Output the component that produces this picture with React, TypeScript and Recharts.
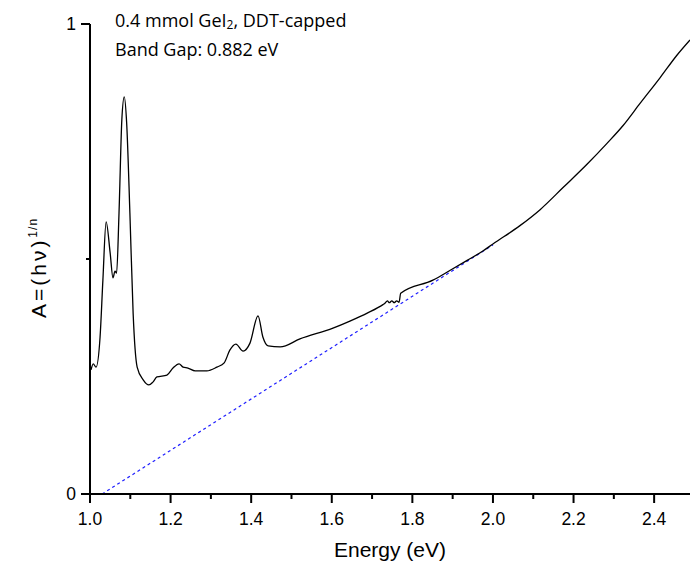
import React from "react";
import { LineChart, Line, XAxis, YAxis } from "recharts";

// absorption curve: energy (eV) and A=(hν)^(1/n)
const energy = [
  1.0025, 1.008, 1.015, 1.025, 1.032, 1.04, 1.05, 1.057, 1.062, 1.066, 1.072,
  1.079, 1.085, 1.091, 1.099, 1.107, 1.117, 1.132, 1.146, 1.156, 1.166, 1.191,
  1.206, 1.221, 1.231, 1.243, 1.261, 1.29, 1.315, 1.333, 1.347, 1.362, 1.38,
  1.397, 1.417, 1.429, 1.442, 1.472, 1.521, 1.603, 1.645, 1.688, 1.727, 1.732,
  1.738, 1.743, 1.749, 1.755, 1.761, 1.767, 1.771, 1.851, 1.894, 1.936, 1.975,
  2.0, 2.067, 2.117, 2.174, 2.234, 2.283, 2.323, 2.365, 2.415, 2.457, 2.489,
];
const absorb = [
  0.264, 0.277, 0.27, 0.334, 0.455, 0.579, 0.513, 0.46, 0.474, 0.47, 0.598,
  0.796, 0.845, 0.789, 0.598, 0.385, 0.27, 0.243, 0.232, 0.238, 0.249, 0.253,
  0.268, 0.277, 0.27, 0.268, 0.262, 0.262, 0.27, 0.279, 0.306, 0.319, 0.304,
  0.321, 0.379, 0.334, 0.315, 0.313, 0.33, 0.353, 0.368, 0.385, 0.403, 0.406,
  0.411, 0.407, 0.411, 0.407, 0.411, 0.408, 0.427, 0.455, 0.476, 0.497, 0.517,
  0.532, 0.571, 0.605, 0.652, 0.702, 0.746, 0.784, 0.831, 0.886, 0.934, 0.966,
];

// linear fit (tangent) extrapolated to the energy axis
const fitEnergy = [1.03, 2.0];
const fitAbsorb = [0, 0.53];

const xTicks = [1.0, 1.1, 1.2, 1.3, 1.4, 1.5, 1.6, 1.7, 1.8, 1.9, 2.0, 2.1, 2.2, 2.3, 2.4];
const xLabels = ["1.0", "1.2", "1.4", "1.6", "1.8", "2.0", "2.2", "2.4"];
const yTicks = [0, 0.5, 1];
const yLabels = ["0", "1"];

const curve = energy.map((e, i) => ({ e, a: absorb[i] }));
const fit = fitEnergy.map((e, i) => ({ e, a: fitAbsorb[i] }));

const tickFont = "'Liberation Sans', Arial, sans-serif";

function XTick(props: any) {
  const { x, y, payload } = props;
  const label = Number(payload.value).toFixed(1);
  const major = xLabels.includes(label);
  return (
    <g>
      <line x1={x} y1={y} x2={x} y2={y + (major ? 9 : 5)} stroke="#000" strokeWidth={2} />
      {major && (
        <text x={x} y={y + 31} textAnchor="middle" fontSize={17.5} fontFamily={tickFont} fill="#000">
          {label}
        </text>
      )}
    </g>
  );
}

function YTick(props: any) {
  const { x, y, payload } = props;
  const label = String(payload.value);
  const major = yLabels.includes(label);
  return (
    <g>
      <line x1={x} y1={y} x2={x - (major ? 9 : 4)} y2={y} stroke="#000" strokeWidth={2} />
      {major && (
        <text x={x - 14} y={y + 6} textAnchor="end" fontSize={17.5} fontFamily={tickFont} fill="#000">
          {label}
        </text>
      )}
    </g>
  );
}

export default function App() {
  return (
    <div style={{ position: "absolute", left: 0, top: 0, width: 690, height: 566, background: "#fff" }}>
      <LineChart width={690} height={566} margin={{ top: 24, right: 0, bottom: 0, left: 0 }}>
        <XAxis
          type="number"
          dataKey="e"
          domain={[1, 2.489]}
          ticks={xTicks}
          allowDataOverflow
          height={72}
          tickSize={0}
          tickMargin={0}
          tickLine={false}
          tick={<XTick />}
          axisLine={{ stroke: "#000", strokeWidth: 2 }}
        />
        <YAxis
          type="number"
          dataKey="a"
          domain={[0, 1]}
          ticks={yTicks}
          width={90}
          tickSize={0}
          tickMargin={0}
          tickLine={false}
          tick={<YTick />}
          axisLine={{ stroke: "#000", strokeWidth: 2 }}
        />
        <Line
          data={fit}
          dataKey="a"
          type="linear"
          stroke="#1f1fff"
          strokeWidth={1.2}
          strokeDasharray="3 3"
          dot={false}
          isAnimationActive={false}
        />
        <Line
          data={curve}
          dataKey="a"
          type="monotone"
          stroke="#000"
          strokeWidth={1.3}
          dot={false}
          isAnimationActive={false}
        />
      </LineChart>

      <div
        style={{
          position: "absolute",
          left: 115,
          top: 8,
          fontFamily: "'Open Sans', 'Noto Sans', sans-serif",
          fontSize: 18,
          lineHeight: "25px",
          color: "#000",
          whiteSpace: "nowrap",
        }}
      >
        <div>
          0.4 mmol GeI<sub style={{ fontSize: 12, verticalAlign: "-2px" }}>2</sub>, DDT-capped
        </div>
        <div>Band Gap: 0.882 eV</div>
      </div>

      <div
        style={{
          position: "absolute",
          left: 390,
          top: 550,
          transform: "translate(-50%, -50%)",
          fontFamily: tickFont,
          fontSize: 21,
          whiteSpace: "nowrap",
        }}
      >
        Energy (eV)
      </div>

      <div
        style={{
          position: "absolute",
          left: 38,
          top: 268,
          transform: "translate(-50%, -50%) rotate(-90deg)",
          fontFamily: tickFont,
          fontSize: 21,
          letterSpacing: 3,
          whiteSpace: "nowrap",
        }}
      >
        A=(hν)<sup style={{ fontSize: 12, verticalAlign: "9px", letterSpacing: 1 }}>1/n</sup>
      </div>
    </div>
  );
}
